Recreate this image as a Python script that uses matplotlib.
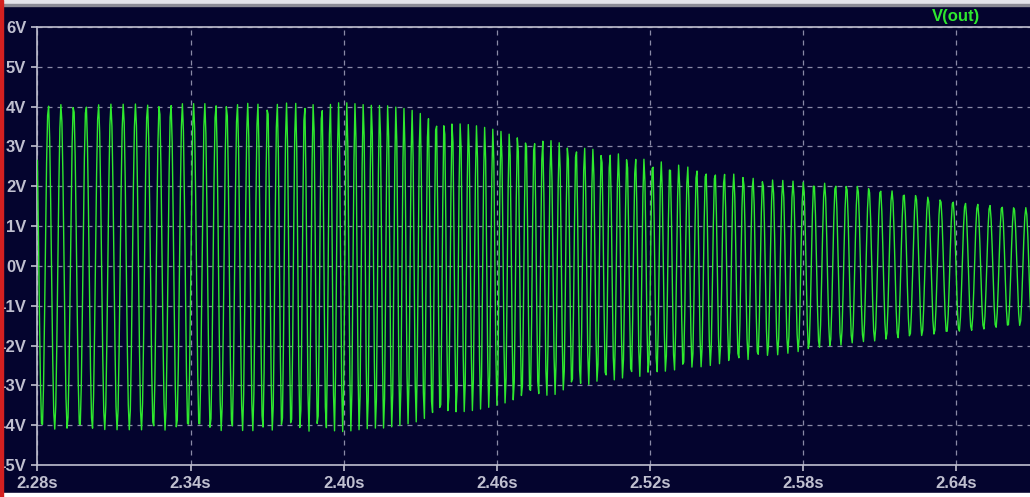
"""
LTspice-style transient view of V(out), 2.28 s .. 2.67 s.
"""
import numpy as np
import matplotlib.pyplot as plt
from matplotlib.patches import Rectangle

# ── values ──────────────────────────────────────────────────────
# upper envelope of the trace (s, V)
t_top = [2.2800, 2.3997, 2.4162, 2.4260, 2.4456, 2.4644, 2.4926, 2.5200,
         2.5498, 2.5643, 2.6015, 2.6442, 2.6700]
v_top = [4.05, 4.10, 4.08, 3.92, 3.62, 3.37, 3.00, 2.66,
         2.34, 2.18, 2.02, 1.58, 1.45]
# lower envelope of the trace (s, V)
t_bot = [2.2800, 2.3997, 2.4162, 2.4261, 2.4340, 2.4469, 2.4602, 2.4822,
         2.4947, 2.5488, 2.5652, 2.5997, 2.6700]
v_bot = [-4.10, -4.16, -4.12, -3.95, -3.87, -3.70, -3.52, -3.24,
         -2.99, -2.45, -2.28, -1.94, -1.47]
# apparent oscillation rate on screen (s, Hz)
t_freq = [2.2800, 2.3130, 2.3560, 2.3950, 2.4340, 2.4730, 2.5220,
          2.5870, 2.6340, 2.6700]
f_freq = [201, 207, 238, 307, 319, 307, 297, 238, 204, 215]

x_ticks = [2.28, 2.34, 2.40, 2.46, 2.52, 2.58, 2.64]
x_labels = ['2.28s', '2.34s', '2.40s', '2.46s', '2.52s', '2.58s', '2.64s']
y_ticks = [6, 5, 4, 3, 2, 1, 0, -1, -2, -3, -4, -5]
y_labels = ['6V', '5V', '4V', '3V', '2V', '1V', '0V',
            '-1V', '-2V', '-3V', '-4V', '-5V']

BG = '#04042e'
GRID = '#8a8aa6'
AXC = '#c0c0d0'
TRACE = '#2ee82e'

# ── build the trace from the read envelope / rate ───────────────
# coarse step, like the simulator's own time points
dt = 0.0004
t = np.arange(2.28, 2.6705, dt)
top = np.interp(t, t_top, v_top)
bot = np.interp(t, t_bot, v_bot)
freq = np.interp(t, t_freq, f_freq)
phase = 0.35 + 2 * np.pi * np.cumsum(freq) * dt
v = (top + bot) / 2 + (top - bot) / 2 * np.cos(phase)

# ── figure ──────────────────────────────────────────────────────
plt.rcParams['font.family'] = ['Liberation Sans', 'DejaVu Sans']
fig = plt.figure(figsize=(10.30, 4.97), dpi=100, facecolor=BG)
W, H = 1030, 497
ax = fig.add_axes([37.4 / W, (H - 465) / H, 1 - 37.4 / W, (465 - 27) / H])
ax.set_facecolor(BG)

ax.plot(t, v, color=TRACE, lw=1.0, zorder=3)

ax.set_xlim(2.28, 2.28 + (W - 37.4) / 2552.7)
ax.set_ylim(-5, 6)
ax.set_xticks(x_ticks)
ax.set_xticklabels(x_labels)
ax.set_yticks(y_ticks)
ax.set_yticklabels(y_labels)

ax.grid(True, color=GRID, ls=(0, (4, 4)), lw=0.9, zorder=1)
ax.spines['right'].set_visible(False)
for s in ['left', 'bottom', 'top']:
    ax.spines[s].set_color(AXC)
    ax.spines[s].set_linewidth(1.2)
ax.tick_params(colors=AXC, length=4, width=1.2, labelsize=12, pad=4)
for lab in ax.get_xticklabels() + ax.get_yticklabels():
    lab.set_fontweight('bold')
    lab.set_color(AXC)

# trace label
fig.text(956 / W, 1 - 16 / H, 'V(out)', color=TRACE, fontsize=12,
         fontweight='bold', ha='center', va='center')

# window chrome around the plot pane
fig.patches.append(Rectangle((0, 1 - 4 / H), 1, 4 / H, transform=fig.transFigure,
                             color='#e4e4ea', zorder=10))
fig.patches.append(Rectangle((0, 1 - 5.5 / H), 1, 1.5 / H, transform=fig.transFigure,
                             color='#8c8c96', zorder=10))
fig.patches.append(Rectangle((0, 0), 1, 4.5 / H, transform=fig.transFigure,
                             color='#ffffff', zorder=10))
fig.patches.append(Rectangle((0, 0), 3 / W, 1, transform=fig.transFigure,
                             color='#d42020', zorder=11))

fig.savefig('out.png', dpi=100, facecolor=BG)
